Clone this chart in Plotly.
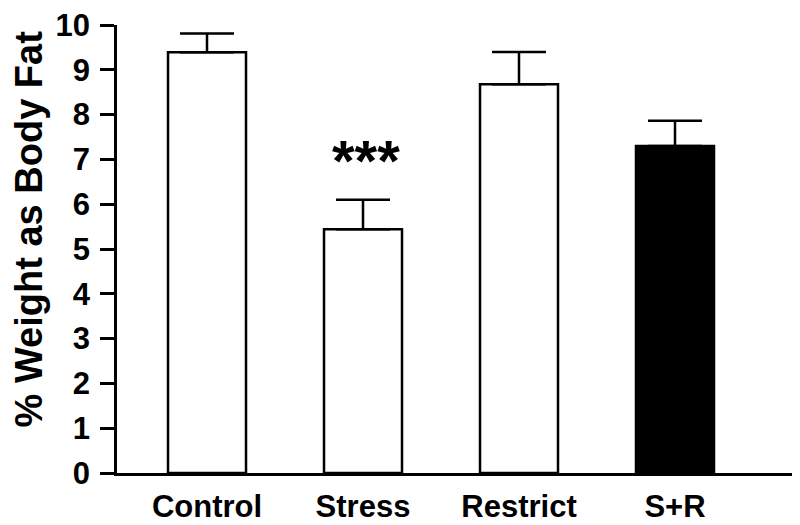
import plotly.graph_objects as go

categories = ["Control", "Stress", "Restrict", "S+R"]
means = [9.39, 5.44, 8.68, 7.30]
sem = [0.42, 0.66, 0.72, 0.56]
bar_colors = ["white", "white", "white", "black"]
y_ticks = list(range(0, 11))
sig_label = "***"
sig_y = 7.1
y_title = "% Weight as Body Fat"

FONT = "Liberation Sans, Arial, sans-serif"

fig = go.Figure()
fig.add_trace(go.Bar(
    x=categories, y=means,
    marker=dict(color=bar_colors, line=dict(color="black", width=2.5)),
    error_y=dict(type="data", array=sem, arrayminus=[0] * len(sem), symmetric=False,
                 color="black", thickness=2.5, width=27),
    width=0.5,
))

fig.add_annotation(x=categories[1], y=sig_y, text=sig_label, showarrow=False,
                   font=dict(family=FONT, size=58, color="black", weight="bold"),
                   xanchor="center", yanchor="middle", yshift=-6, xshift=3)

# y-axis title as rotated annotation (positioned slightly above plot centre as in reference)
fig.add_annotation(xref="paper", yref="paper", x=-0.131, y=0.545, text=y_title,
                   textangle=-90, showarrow=False, xanchor="center", yanchor="middle",
                   font=dict(family=FONT, size=38, color="black", weight="bold"))

fig.update_layout(
    width=800, height=525,
    margin=dict(l=117, r=8, t=25, b=52, autoexpand=False),
    paper_bgcolor="white", plot_bgcolor="white",
    showlegend=False,
    font=dict(family=FONT, color="black"),
    xaxis=dict(
        range=[-0.577, 3.75], showline=True, linecolor="black", linewidth=2.5,
        ticks="", showgrid=False, zeroline=False, automargin=False,
        tickfont=dict(family=FONT, size=31, color="black", weight="bold"),
        ticklabelstandoff=4,
    ),
    yaxis=dict(
        range=[0, 10], tickvals=y_ticks, showline=True, linecolor="black", linewidth=2.5,
        ticks="outside", ticklen=14, tickwidth=2.5, tickcolor="black",
        showgrid=False, zeroline=False, automargin=False,
        tickfont=dict(family=FONT, size=31, color="black", weight="bold"),
        ticklabelstandoff=4,
    ),
)

fig.write_html("out.html", config={"displayModeBar": False},
               post_script="document.body.style.margin='0';document.body.style.overflow='hidden';")
